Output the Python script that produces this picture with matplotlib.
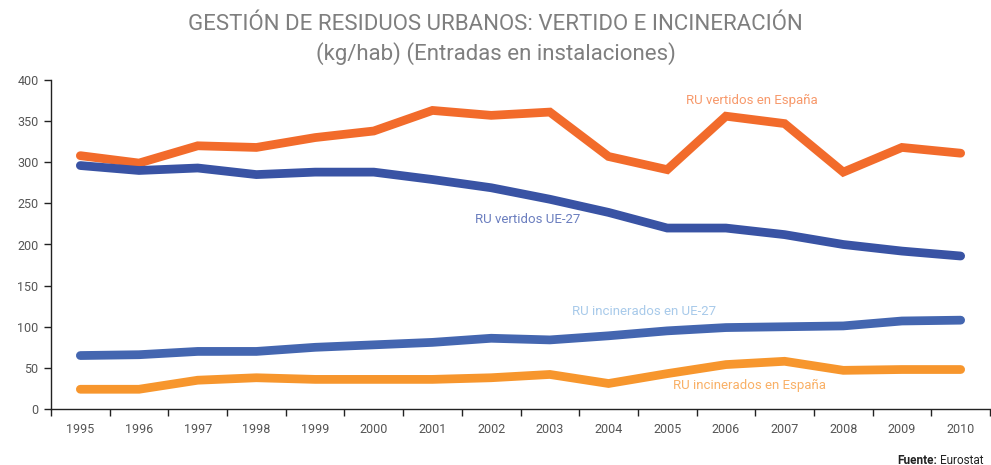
import matplotlib.pyplot as plt
import numpy as np

plt.rcParams['font.family'] = ['Roboto', 'DejaVu Sans']

# Data (kg/hab)
years = [str(y) for y in range(1995, 2011)]
vertidos_es = [308, 299, 320, 318, 330, 338, 363, 357, 361, 307, 291, 356, 347, 288, 318, 311]
vertidos_ue = [296, 290, 293, 285, 288, 288, 279, 269, 255, 239, 220, 220, 212, 200, 192, 186]
incin_ue = [65, 66, 70, 70, 75, 78, 81, 86, 84, 89, 95, 99, 100, 101, 107, 108]
incin_es = [24, 24, 35, 38, 36, 36, 36, 38, 42, 31, 43, 54, 58, 47, 48, 48]

x = np.arange(len(years))

fig = plt.figure(figsize=(9.91, 4.65), dpi=100)
ax = fig.add_axes([51 / 991, 56 / 465, 939 / 991, 329 / 465])

lw = 6.3
ax.plot(x, vertidos_es, color='#F26B2B', lw=lw, solid_capstyle='round', solid_joinstyle='miter')
ax.plot(x, vertidos_ue, color='#3953A4', lw=lw, solid_capstyle='round', solid_joinstyle='miter')
ax.plot(x, incin_ue, color='#4466B0', lw=lw, solid_capstyle='round', solid_joinstyle='miter')
ax.plot(x, incin_es, color='#F7962D', lw=lw, solid_capstyle='round', solid_joinstyle='miter')

ax.set_xlim(-0.5, len(years) - 0.5)
ax.set_ylim(0, 400)
ax.set_yticks(range(0, 401, 50))
ax.set_xticks(x)
ax.set_xticklabels(years)
ax.set_xticks(np.arange(-0.5, len(years), 1), minor=True)
ax.tick_params(axis='x', which='major', length=0, pad=10, labelsize=9, labelcolor='#555555')
ax.tick_params(axis='x', which='minor', length=5, width=1, color='#222222')
ax.tick_params(axis='y', length=5, width=1, color='#222222', labelsize=9, labelcolor='#555555', pad=4)
for s in ['top', 'right']:
    ax.spines[s].set_visible(False)
for s in ['left', 'bottom']:
    ax.spines[s].set_color('#222222')
    ax.spines[s].set_linewidth(1)

# Series labels
ax.text(11.44, 375, 'RU vertidos en España', color='#F7996B', fontsize=9.5, ha='center', va='center')
ax.text(7.63, 231, 'RU vertidos UE-27', color='#6B7EBF', fontsize=9.5, ha='center', va='center')
ax.text(9.61, 119, 'RU incinerados en UE-27', color='#A8CAEA', fontsize=9.5, ha='center', va='center')
ax.text(11.41, 29, 'RU incinerados en España', color='#F9B066', fontsize=9.5, ha='center', va='center')

fig.text(0.5, 1 - 25 / 465, 'GESTIÓN DE RESIDUOS URBANOS: VERTIDO E INCINERACIÓN',
         ha='center', va='center', fontsize=16, color='#7F7F7F')
fig.text(0.5, 1 - 54 / 465, '(kg/hab) (Entradas en instalaciones)',
         ha='center', va='center', fontsize=16, color='#7F7F7F')

fig.text(937 / 991, 1 - 460 / 465, 'Fuente:', ha='right', va='center', fontsize=8.5,
         fontweight='bold', color='#222222')
fig.text(940 / 991, 1 - 460 / 465, 'Eurostat', ha='left', va='center', fontsize=8.5, color='#222222')

fig.savefig('out.png', dpi=100)
